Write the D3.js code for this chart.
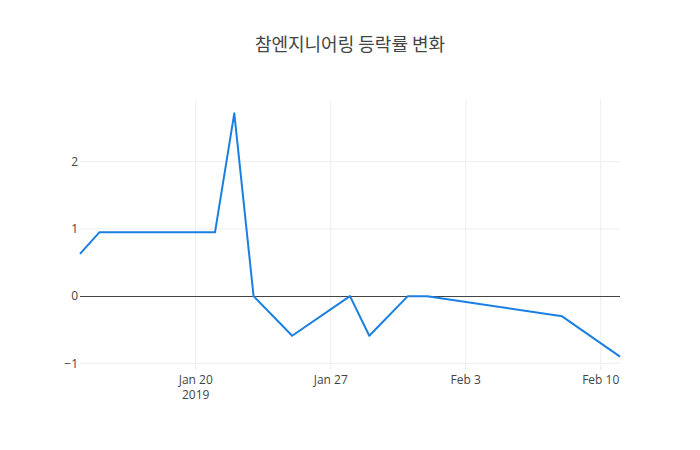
<!DOCTYPE html>
<html>
<head>
<meta charset="utf-8">
<script src="https://cdn.jsdelivr.net/npm/d3@7"></script>
<style>
body{margin:0;background:#fff;}
text{font-family:"Open Sans","Noto Sans CJK KR",sans-serif;}
</style>
</head>
<body>
<svg id="chart"></svg>
<script>
// 날짜와 등락률
dates=["2019-01-14","2019-01-15","2019-01-21","2019-01-22","2019-01-23","2019-01-25",
       "2019-01-28","2019-01-29","2019-01-31","2019-02-01","2019-02-08","2019-02-11"];
rates=[0.63,0.95,0.95,2.72,0.0,-0.59,0.0,-0.59,0.0,0.0,-0.3,-0.9];
yTicks=[-1,0,1,2];
xTicks=["2019-01-20","2019-01-27","2019-02-03","2019-02-10"];
xTickLabels=["Jan 20","Jan 27","Feb 3","Feb 10"];
title="참엔지니어링 등락률 변화";

W=700; H=450;
m={l:80,r:80,t:100,b:80};
parse=d3.timeParse("%Y-%m-%d");
data=dates.map(function(d,i){return {date:parse(d),v:rates[i]};});

svg=d3.select("#chart").attr("width",W).attr("height",H);

x=d3.scaleTime()
    .domain(d3.extent(data,function(d){return d.date;}))
    .range([m.l,W-m.r]);
yMin=d3.min(rates), yMax=d3.max(rates), pad=(yMax-yMin)*0.05;
y=d3.scaleLinear()
    .domain([yMin-pad*1.1,yMax+pad*1.1])
    .range([H-m.b,m.t]);

// grid
svg.append("g").selectAll("line").data(xTicks).enter().append("line")
    .attr("x1",function(d){return x(parse(d));})
    .attr("x2",function(d){return x(parse(d));})
    .attr("y1",m.t).attr("y2",H-m.b)
    .attr("stroke","#eee").attr("stroke-width",1);
svg.append("g").selectAll("line").data(yTicks.filter(function(d){return d!=0;})).enter().append("line")
    .attr("x1",m.l).attr("x2",W-m.r)
    .attr("y1",function(d){return y(d);})
    .attr("y2",function(d){return y(d);})
    .attr("stroke","#eee").attr("stroke-width",1);

// zero line
z=Math.round(y(0))+0.5;
svg.append("line")
    .attr("x1",m.l).attr("x2",W-m.r)
    .attr("y1",z).attr("y2",z)
    .attr("stroke","#444").attr("stroke-width",1);

// y tick labels
svg.append("g").selectAll("text").data(yTicks).enter().append("text")
    .attr("x",m.l-2)
    .attr("y",function(d){return y(d)+4.2;})
    .attr("text-anchor","end")
    .attr("font-size","12px")
    .attr("fill","#444")
    .text(function(d){return d<0?"\u2212"+Math.abs(d):d;});

// x tick labels
xTicks.forEach(function(d,i){
    t=svg.append("text")
        .attr("x",x(parse(d)))
        .attr("y",H-m.b+13.5)
        .attr("text-anchor","middle")
        .attr("font-size","12px")
        .attr("fill","#444");
    t.append("tspan").attr("x",x(parse(d))).text(xTickLabels[i]);
    if(i==0) t.append("tspan").attr("x",x(parse(d))).attr("dy","1.3em").text("2019");
});

// line
line=d3.line()
    .x(function(d){return x(d.date);})
    .y(function(d){return y(d.v);});
svg.append("path")
    .datum(data)
    .attr("d",line)
    .attr("fill","none")
    .attr("stroke","#1a7fe2")
    .attr("stroke-width",2)
    .attr("stroke-linejoin","round");

// title
svg.append("text")
    .attr("x",W/2).attr("y",51)
    .attr("text-anchor","middle")
    .attr("font-size","18px")
    .attr("fill","#444")
    .style("font-family","'Noto Sans CJK KR','Open Sans',sans-serif")
    .text(title);
</script>
</body>
</html>
